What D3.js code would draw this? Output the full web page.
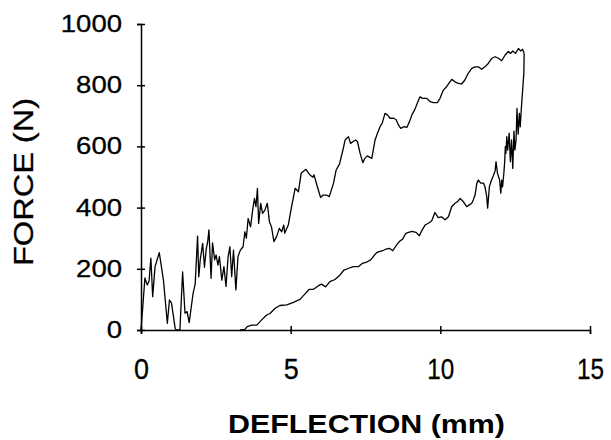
<!DOCTYPE html>
<html>
<head>
<meta charset="utf-8">
<script src="https://cdn.jsdelivr.net/npm/d3@7"></script>
<style>
  html, body { margin: 0; padding: 0; background: #fff; }
  svg { display: block; }
  text { font-family: "Liberation Sans", Arial, Helvetica, sans-serif; fill: #000; }
</style>
</head>
<body>
<svg id="chart" width="611" height="440"></svg>
<script>
// ---- data ----
const xTicks = [0, 5, 10, 15];
const yTicks = [0, 200, 400, 600, 800, 1000];
const xLabel = "DEFLECTION (mm)";
const yLabel = "FORCE (N)";

// loading branch: deflection (mm) and force (N)
const loadingDeflection = [0,0.06,0.13,0.21,0.27,0.33,0.39,0.47,0.61,0.75,0.88,0.95,1.02,1.14,1.17,1.30,1.39,1.47,1.54,1.61,1.74,1.81,1.89,1.93,1.98,2.06,2.12,2.18,2.23,2.27,2.34,2.39,2.46,2.51,2.57,2.62,2.70,2.77,2.84,2.91,2.97,3.03,3.09,3.17,3.24,3.32,3.41,3.47,3.52,3.58,3.66,3.73,3.79,3.84,3.89,3.93,4.00,4.06,4.14,4.22,4.29,4.36,4.44,4.53,4.62,4.70,4.77,4.80,4.92,5.03,5.15,5.26,5.35,5.51,5.64,5.74,5.78,5.89,6.00,6.08,6.20,6.29,6.43,6.52,6.63,6.76,6.82,6.93,7.00,7.09,7.17,7.23,7.32,7.41,7.48,7.56,7.65,7.71,7.82,7.90,7.99,8.06,8.15,8.23,8.32,8.43,8.52,8.60,8.68,8.79,8.88,8.97,9.05,9.15,9.23,9.32,9.41,9.55,9.66,9.77,9.90,9.99,10.10,10.21,10.38,10.49,10.60,10.71,10.82,10.93,11.05,11.16,11.27,11.38,11.49,11.60,11.72,11.83,11.94,12.05,12.16,12.27,12.35,12.42,12.51,12.61,12.68,12.75,12.80];
const loadingForce = [0,76,170,147,160,235,109,207,253,163,22,98,88,6,0,0,190,55,60,24,120,150,307,174,230,283,205,265,290,327,169,285,229,245,212,240,163,207,142,240,272,174,261,131,240,261,272,321,300,365,337,392,430,403,463,348,414,381,392,414,354,337,289,305,332,321,343,316,343,403,463,452,512,525,507,499,507,469,433,441,441,436,479,523,542,594,621,632,610,616,621,616,577,547,561,569,564,561,621,643,665,676,708,703,692,692,688,670,659,665,662,681,703,721,741,762,757,757,746,743,743,757,784,795,819,811,806,804,817,839,855,860,860,852,860,871,888,893,888,880,898,910,904,912,904,920,912,917,904];

// unloading branch: deflection (mm) and force (N)
const unloadingDeflection = [12.80,12.79,12.75,12.71,12.67,12.64,12.60,12.56,12.53,12.49,12.46,12.42,12.38,12.34,12.30,12.25,12.22,12.19,12.17,12.15,12.12,12.10,12.08,12.05,12.02,11.98,11.91,11.86,11.83,11.77,11.71,11.64,11.58,11.55,11.49,11.44,11.35,11.27,11.22,11.16,11.10,11.05,10.97,10.88,10.77,10.66,10.57,10.49,10.38,10.27,10.16,10.04,9.93,9.82,9.71,9.60,9.49,9.38,9.30,9.19,9.05,8.94,8.85,8.74,8.63,8.54,8.41,8.30,8.18,8.07,7.96,7.87,7.76,7.67,7.56,7.40,7.26,7.09,6.92,6.78,6.65,6.48,6.31,6.17,6.03,5.92,5.76,5.62,5.48,5.31,5.09,4.87,4.64,4.48,4.31,4.20,4.03,3.87,3.70,3.55,3.47,3.31];
const unloadingForce = [904,839,784,730,664,708,640,724,621,588,650,528,621,550,643,588,632,577,599,550,510,490,468,490,447,490,512,550,520,504,490,469,398,436,469,480,480,490,480,441,425,414,409,403,419,430,419,414,403,370,360,370,367,384,356,349,343,325,308,319,322,319,316,297,289,278,259,267,264,259,256,253,240,229,223,218,207,207,201,196,180,165,158,141,150,144,133,133,118,100,90,82,80,71,54,49,33,16,16,11,2,0];

// ---- drawing ----
const svg = d3.select("#chart");
const x = d3.scaleLinear().domain([0, 15]).range([141, 590]);
const y = d3.scaleLinear().domain([0, 1000]).range([330, 24]);

const line = d3.line().x(d => x(d[0])).y(d => y(d[1]));
const loading = d3.zip(loadingDeflection, loadingForce);
const unloading = d3.zip(unloadingDeflection, unloadingForce);

svg.append("path").datum(loading).attr("d", line)
  .attr("fill", "none").attr("stroke", "#000").attr("stroke-width", 1.3).attr("stroke-linejoin", "round");
svg.append("path").datum(unloading).attr("d", line)
  .attr("fill", "none").attr("stroke", "#000").attr("stroke-width", 1.3).attr("stroke-linejoin", "round");

// x axis
const gx = svg.append("g").attr("transform", `translate(0,${y(0)})`)
  .call(d3.axisBottom(x).tickValues(xTicks).tickSizeOuter(0).tickSize(4).tickFormat(d3.format("d")));
gx.select(".domain").attr("stroke", "#000").attr("stroke-width", 1.5);
gx.selectAll(".tick line").attr("y1", -4).attr("y2", 4).attr("stroke", "#000").attr("stroke-width", 1.5);
gx.selectAll(".tick text")
  .attr("y", 49).attr("dy", null)
  .attr("font-size", 30)
  .attr("font-family", "'Liberation Sans', Arial, sans-serif")
  .attr("fill", "#000")
  .attr("stroke", "#000").attr("stroke-width", 0.3)
  .attr("textLength", d => String(d).length === 1 ? 15 : 27)
  .attr("lengthAdjust", "spacingAndGlyphs");

// y axis
const gy = svg.append("g").attr("transform", `translate(${x(0)},0)`)
  .call(d3.axisLeft(y).tickValues(yTicks).tickSizeOuter(0).tickSize(4).tickFormat(d3.format("d")));
gy.select(".domain").attr("stroke", "#000").attr("stroke-width", 1.5);
gy.selectAll(".tick line").attr("x1", -4).attr("x2", 4).attr("stroke", "#000").attr("stroke-width", 1.5);
gy.selectAll(".tick text")
  .attr("x", -19).attr("dy", "0.31em")
  .attr("font-size", 24)
  .attr("font-family", "'Liberation Sans', Arial, sans-serif")
  .attr("fill", "#000")
  .attr("stroke", "#000").attr("stroke-width", 0.3)
  .attr("textLength", d => String(d).length * 15.3)
  .attr("lengthAdjust", "spacingAndGlyphs");

// axis titles
svg.append("text")
  .attr("x", 366.5).attr("y", 433)
  .attr("text-anchor", "middle")
  .attr("font-size", 25).attr("font-weight", "bold")
  .attr("textLength", 277).attr("lengthAdjust", "spacingAndGlyphs")
  .text(xLabel);

svg.append("text")
  .attr("transform", "translate(33,182) rotate(-90)")
  .attr("text-anchor", "middle")
  .attr("font-size", 27)
  .attr("stroke", "#000").attr("stroke-width", 0.3)
  .attr("textLength", 168).attr("lengthAdjust", "spacingAndGlyphs")
  .text(yLabel);
</script>
</body>
</html>
